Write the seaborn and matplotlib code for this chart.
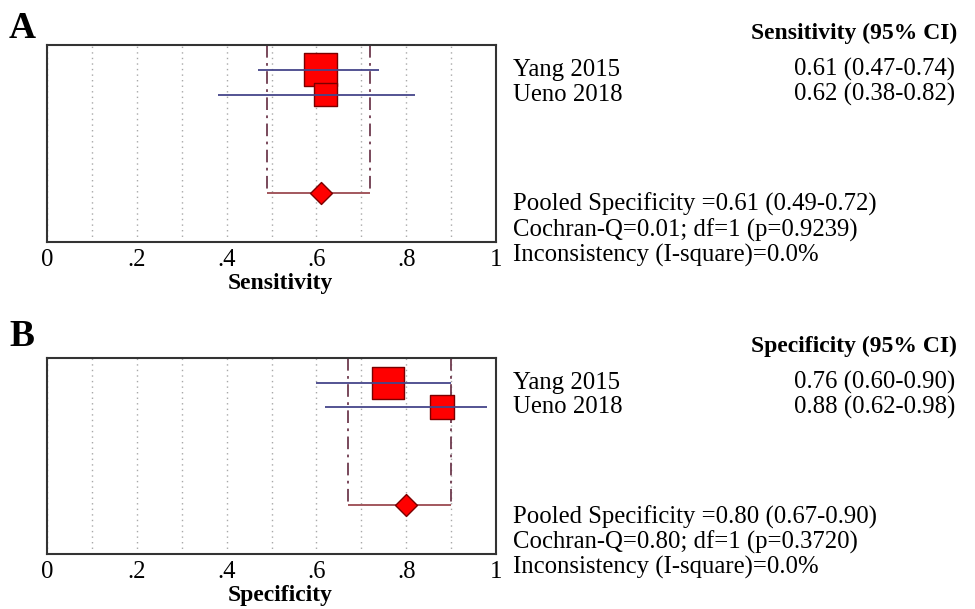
import numpy as np
import pandas as pd
import matplotlib
matplotlib.use("Agg")
import matplotlib.pyplot as plt
import seaborn as sns

# ---------------- data ----------------
studies = ["Yang 2015", "Ueno 2018"]

sens_est = [0.61, 0.62]
sens_lo = [0.47, 0.38]
sens_hi = [0.74, 0.82]
sens_pooled = [0.61, 0.49, 0.72]
sens_stats = ["Cochran-Q=0.01; df=1 (p=0.9239)", "Inconsistency (I-square)=0.0%"]

spec_est = [0.76, 0.88]
spec_lo = [0.60, 0.62]
spec_hi = [0.90, 0.98]
spec_pooled = [0.80, 0.67, 0.90]
spec_stats = ["Cochran-Q=0.80; df=1 (p=0.3720)", "Inconsistency (I-square)=0.0%"]

tick_vals = [0, 0.2, 0.4, 0.6, 0.8, 1.0]
tick_labels = ["0", ".2", ".4", ".6", ".8", "1"]

# ---------------- style ----------------
sns.set_theme(style="white")
plt.rcParams["font.family"] = ["Liberation Serif", "DejaVu Serif"]
plt.rcParams["text.color"] = "black"
plt.rcParams["axes.labelcolor"] = "black"
plt.rcParams["xtick.color"] = "black"

W, H = 975, 609
fig = plt.figure(figsize=(W / 100, H / 100), dpi=100)


def fx(px):
    return px / W


def fy(py):
    return 1 - py / H


FS = 17.8
FSB = 17.0
SQ_COLOR = "#ff0000"
SQ_EDGE = "#7a0000"
CI_COLOR = "#45458a"
POOL_COLOR = "#9b4a50"
DASH_COLOR = "#6e3a4e"


def panel(top_px, bottom_px, est, lo, hi, pooled, stats, xlabel, header,
          letter, letter_y, label_y_px, sq_sides_px):
    ax = fig.add_axes([fx(47), fy(bottom_px), fx(496) - fx(47),
                       fy(top_px) - fy(bottom_px)])
    rows = [1, 2]
    pool_row = 5.95
    ax.set_xlim(0, 1)
    ax.set_ylim(7.92, 0)

    # grid
    ax.set_xticks(tick_vals)
    ax.set_xticklabels(tick_labels, fontsize=FS)
    ax.set_xticks(np.arange(0.1, 1.0, 0.1), minor=True)
    ax.xaxis.grid(True, which="both", linestyle=(0, (1, 3)),
                  color="#a8a8a8", linewidth=1.0)
    ax.set_yticks([])
    ax.tick_params(axis="x", which="both", length=0, pad=5)
    for s in ax.spines.values():
        s.set_linewidth(1.5)
        s.set_color("#333333")
        s.set_visible(True)

    areas = [(p * 0.72) ** 2 for p in sq_sides_px]
    df = pd.DataFrame({"study": studies, "est": est, "row": rows})
    sns.scatterplot(data=df, x="est", y="row", size="study",
                    sizes=dict(zip(studies, areas)), marker="s",
                    color=SQ_COLOR, edgecolor=SQ_EDGE, linewidth=1.0,
                    legend=False, ax=ax, zorder=3)
    ax.hlines(rows, lo, hi, color=CI_COLOR, linewidth=1.3, zorder=4)

    # pooled
    pe, plo, phi = pooled
    ax.vlines([plo, phi], 0, pool_row, color=DASH_COLOR, linewidth=1.3,
              linestyles=[(0, (7, 3, 1.5, 3))], zorder=2)
    ax.hlines([pool_row], plo, phi, color=POOL_COLOR, linewidth=1.3, zorder=4)
    pdf = pd.DataFrame({"est": [pe], "row": [pool_row]})
    sns.scatterplot(data=pdf, x="est", y="row", marker="D", s=125,
                    color=SQ_COLOR, edgecolor=SQ_EDGE, linewidth=1.0,
                    legend=False, ax=ax, zorder=5)

    ax.set_ylabel("")
    ax.set_xlabel(xlabel, fontsize=FSB, fontweight="bold")
    ax.xaxis.set_label_coords(0.519, -(label_y_px - bottom_px) / (bottom_px - top_px))
    ax.xaxis.label.set_va("center")

    # panel letter
    fig.text(fx(9), fy(letter_y), letter, fontsize=27, fontweight="bold",
             ha="left", va="center")

    # right-hand text
    fig.text(fx(957), fy(top_px - 12), header, fontsize=FSB, fontweight="bold",
             ha="right", va="center")
    unit = (bottom_px - top_px) / 7.92
    for r, name, e, l, h in zip(rows, studies, est, lo, hi):
        ypx = top_px + r * unit
        fig.text(fx(513), fy(ypx), name, fontsize=FS, ha="left", va="center")
        fig.text(fx(955), fy(ypx), f"{e:.2f} ({l:.2f}-{h:.2f})", fontsize=FS,
                 ha="right", va="center")
    lines = [f"Pooled Specificity ={pe:.2f} ({plo:.2f}-{phi:.2f})"] + stats
    for i, t in enumerate(lines):
        ypx = top_px + (6.42 + i * 1.02) * unit
        fig.text(fx(513), fy(ypx), t, fontsize=FS, ha="left", va="center")
    return ax


panel(45, 242, sens_est, sens_lo, sens_hi, sens_pooled, sens_stats,
      "Sensitivity", "Sensitivity (95% CI)", "A", 28, 283, [33, 23.5])
panel(358, 554, spec_est, spec_lo, spec_hi, spec_pooled, spec_stats,
      "Specificity", "Specificity (95% CI)", "B", 336, 595, [32, 24])

fig.savefig("out.png", dpi=100)
